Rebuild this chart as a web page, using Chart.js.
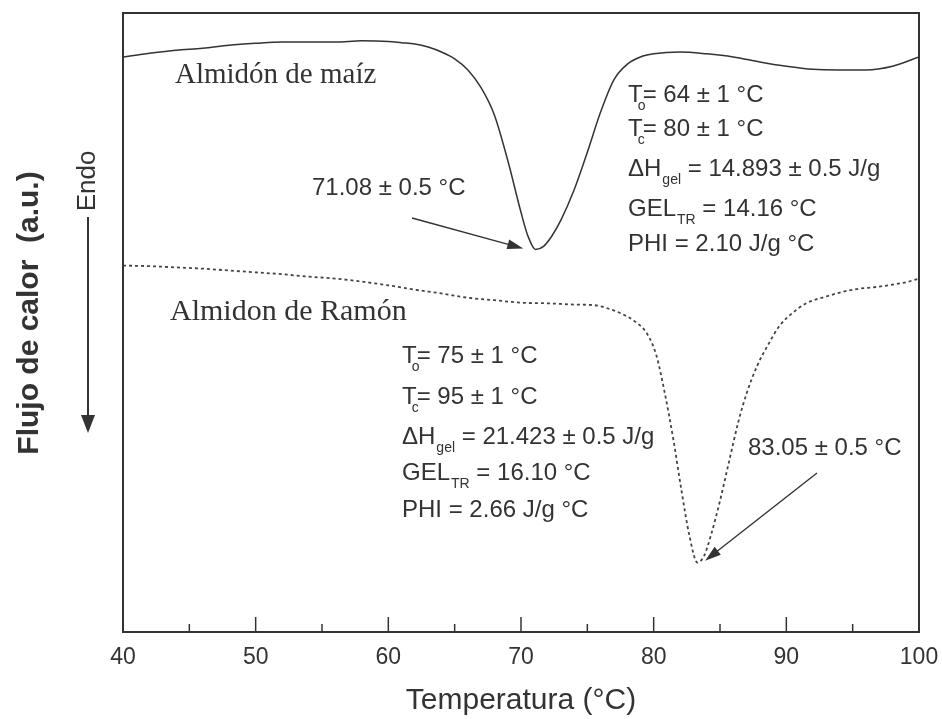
<!DOCTYPE html>
<html>
<head>
<meta charset="utf-8">
<title>Termograma DSC almidones</title>
<script src="https://cdn.jsdelivr.net/npm/chart.js@4.4.1/dist/chart.umd.min.js"></script>
<style>
  body { margin: 0; background: #fff; }
  canvas { display: block; }
</style>
</head>
<body>
<canvas id="mychart" width="942" height="719"></canvas>
<script>

const tempMaiz = [40, 42, 44, 46, 48, 50, 52, 54, 56, 58, 60, 61, 62, 63, 64, 65, 66, 67, 68, 69, 70, 70.5, 71.1, 71.7, 72.3, 73, 74, 75, 76, 77, 78, 79, 80, 82, 84, 86, 88, 90, 92, 94, 96, 98, 100];
const flujoMaiz = [92.9, 93.5, 94.0, 94.3, 94.8, 95.1, 95.3, 95.3, 95.3, 95.5, 95.4, 95.2, 95.0, 94.5, 93.7, 92.6, 90.8, 87.9, 83.5, 76.2, 67.8, 64.1, 61.8, 62.3, 63.9, 66.5, 71.4, 77.5, 84.0, 89.2, 91.7, 92.9, 93.4, 93.7, 93.4, 92.9, 92.1, 91.4, 90.9, 90.8, 90.8, 91.4, 92.9];

const tempRamon = [40, 42, 44, 46, 48, 50, 52, 54, 56, 58, 60, 62, 64, 66, 68, 70, 72, 74, 75.5, 76.5, 77.5, 78.5, 79.5, 80.2, 80.8, 81.5, 82.1, 82.7, 83.3, 83.8, 84.3, 85, 85.7, 86.4, 87, 87.8, 88.6, 89.5, 90.5, 91.5, 93, 95, 97, 99, 100];
const flujoRamon = [59.2, 59.1, 58.9, 58.7, 58.4, 58.1, 57.8, 57.4, 57.1, 56.6, 56.0, 55.3, 54.7, 54.0, 53.6, 53.2, 53.1, 52.9, 52.8, 52.3, 51.5, 50.3, 48.2, 44.7, 39.0, 30.9, 22.8, 15.5, 11.2, 12.3, 15.5, 21.2, 27.7, 34.1, 38.5, 43.0, 46.3, 49.5, 51.6, 53.1, 54.2, 55.3, 55.8, 56.5, 57.1];

const xTicks = [40, 50, 60, 70, 80, 90, 100];
const xMinorTicks = [45, 50, 55, 60, 65, 70, 75, 80, 85, 90, 95];
const picos = [71.08, 83.05];

const etiquetaMaiz = "Almidón de maíz";
const etiquetaRamon = "Almidon de Ramón";
const picoTextos = ["71.08 ± 0.5 °C", "83.05 ± 0.5 °C"];

// bloques de parametros: [texto, subindice, resto, el subindice avanza?]
const paramsMaiz = [
  ["T", "o", "= 64 ± 1 °C", false],
  ["T", "c", "= 80 ± 1 °C", false],
  ["ΔH", "gel", " = 14.893 ± 0.5 J/g", true],
  ["GEL", "TR", " = 14.16 °C", true],
  ["PHI = 2.10 J/g °C", "", "", true]
];
const paramsRamon = [
  ["T", "o", "= 75 ± 1 °C", false],
  ["T", "c", "= 95 ± 1 °C", false],
  ["ΔH", "gel", " = 21.423 ± 0.5 J/g", true],
  ["GEL", "TR", " = 16.10 °C", true],
  ["PHI = 2.66 J/g °C", "", "", true]
];

const INK = "#333";
const SANS = '"Liberation Sans", Arial, sans-serif';
const SERIF = '"Liberation Serif", "Times New Roman", serif';

function flecha(ctx, x1, y1, x2, y2, largo, ancho) {
  const ang = Math.atan2(y2 - y1, x2 - x1);
  ctx.beginPath();
  ctx.moveTo(x1, y1);
  ctx.lineTo(x2 - Math.cos(ang) * largo * 0.8, y2 - Math.sin(ang) * largo * 0.8);
  ctx.stroke();
  ctx.beginPath();
  ctx.moveTo(x2, y2);
  ctx.lineTo(x2 - Math.cos(ang) * largo - Math.sin(ang) * ancho, y2 - Math.sin(ang) * largo + Math.cos(ang) * ancho);
  ctx.lineTo(x2 - Math.cos(ang) * largo + Math.sin(ang) * ancho, y2 - Math.sin(ang) * largo - Math.cos(ang) * ancho);
  ctx.closePath();
  ctx.fill();
}

function bloque(ctx, x, y0, paso, filas) {
  filas.forEach((f, i) => {
    const y = y0 + paso[i];
    ctx.font = "24px " + SANS;
    ctx.fillText(f[0], x, y);
    let cx = x + ctx.measureText(f[0]).width;
    if (f[1]) {
      ctx.font = "14px " + SANS;
      const sx = f[3] ? cx + 1 : cx - 5;
      ctx.fillText(f[1], sx, y + 8);
      if (f[3]) cx = sx + ctx.measureText(f[1]).width;
    }
    ctx.font = "24px " + SANS;
    ctx.fillText(f[2], cx, y);
  });
}

const decor = {
  id: "decor",
  beforeDraw(chart) {
    const ctx = chart.ctx;
    ctx.save();
    ctx.fillStyle = "#fff";
    ctx.fillRect(0, 0, chart.width, chart.height);
    ctx.restore();
  },
  afterDatasetsDraw(chart) {
    const ctx = chart.ctx;
    const a = chart.chartArea;
    const xs = chart.scales.x;
    const ys = chart.scales.y;
    ctx.save();
    ctx.strokeStyle = INK;
    ctx.fillStyle = INK;

    // marco
    ctx.lineWidth = 2;
    ctx.strokeRect(a.left, a.top, a.right - a.left, a.bottom - a.top);

    // marcas hacia adentro en el eje x
    ctx.lineWidth = 1.5;
    xMinorTicks.forEach(v => {
      const px = xs.getPixelForValue(v);
      const len = v % 10 === 0 ? 15 : 8;
      ctx.beginPath();
      ctx.moveTo(px, a.bottom);
      ctx.lineTo(px, a.bottom - len);
      ctx.stroke();
    });

    // nombres de las curvas
    ctx.textBaseline = "alphabetic";
    ctx.textAlign = "left";
    ctx.font = "29px " + SERIF;
    ctx.fillText(etiquetaMaiz, 175, 83);
    ctx.font = "30px " + SERIF;
    ctx.fillText(etiquetaRamon, 170, 320);

    // temperaturas de pico con flechas
    ctx.font = "24px " + SANS;
    ctx.fillText(picoTextos[0], 312, 195);
    ctx.fillText(picoTextos[1], 748, 455);
    ctx.lineWidth = 1.4;
    const t1x = xs.getPixelForValue(picos[0]) - 12;
    const t1y = ys.getPixelForValue(Math.min(...flujoMaiz)) - 1;
    flecha(ctx, 412, 218, t1x, t1y, 16, 5);
    const t2x = xs.getPixelForValue(picos[1]) + 11;
    const t2y = ys.getPixelForValue(Math.min(...flujoRamon)) - 2;
    flecha(ctx, 817, 473, t2x, t2y, 16, 5);

    // parametros
    bloque(ctx, 628, 102, [0, 34, 74, 114, 149], paramsMaiz);
    bloque(ctx, 402, 363, [0, 41, 81, 117, 154], paramsRamon);

    // titulo del eje y y flecha Endo
    ctx.save();
    ctx.translate(30, 313);
    ctx.rotate(-Math.PI / 2);
    ctx.textAlign = "center";
    ctx.textBaseline = "middle";
    ctx.font = "bold 30px " + SANS;
    ctx.fillText("Flujo de calor  (a.u.)", 0, 0);
    ctx.restore();

    ctx.save();
    ctx.translate(88, 181);
    ctx.rotate(-Math.PI / 2);
    ctx.textAlign = "center";
    ctx.textBaseline = "middle";
    ctx.font = "26px " + SANS;
    ctx.fillText("Endo", 0, 0);
    ctx.restore();
    ctx.lineWidth = 2;
    flecha(ctx, 88, 217, 88, 433, 18, 7);

    ctx.restore();
  }
};

var context = document.getElementById("mychart").getContext("2d");
var chart = new Chart(context, {
  type: "line",
  data: {
    datasets: [
      {
        label: etiquetaMaiz,
        data: tempMaiz.map((t, i) => ({ x: t, y: flujoMaiz[i] })),
        borderColor: INK,
        borderWidth: 1.5,
        pointRadius: 0,
        cubicInterpolationMode: "monotone",
        fill: false
      },
      {
        label: etiquetaRamon,
        data: tempRamon.map((t, i) => ({ x: t, y: flujoRamon[i] })),
        borderColor: "#444",
        borderWidth: 1.8,
        borderDash: [3, 3],
        pointRadius: 0,
        cubicInterpolationMode: "monotone",
        fill: false
      }
    ]
  },
  options: {
    responsive: false,
    animation: false,
    layout: { padding: { left: 123, right: 23, top: 13, bottom: 0 } },
    plugins: {
      legend: { display: false },
      tooltip: { enabled: false }
    },
    scales: {
      x: {
        type: "linear",
        min: 40,
        max: 100,
        grid: { display: false, drawTicks: false },
        border: { display: false },
        afterBuildTicks: (s) => { s.ticks = xTicks.map(v => ({ value: v })); },
        afterFit: (s) => {
          s.paddingLeft = 0;
          s.paddingRight = 0;
          s.height = 87;
        },
        ticks: {
          color: INK,
          padding: 12,
          maxRotation: 0,
          autoSkip: false,
          font: { family: SANS, size: 23 }
        },
        title: {
          display: true,
          text: "Temperatura (°C)",
          color: INK,
          padding: { top: 10, bottom: 0 },
          font: { family: SANS, size: 30 }
        }
      },
      y: {
        display: false,
        min: 0,
        max: 100
      }
    }
  },
  plugins: [decor]
});
</script>
</body>
</html>
